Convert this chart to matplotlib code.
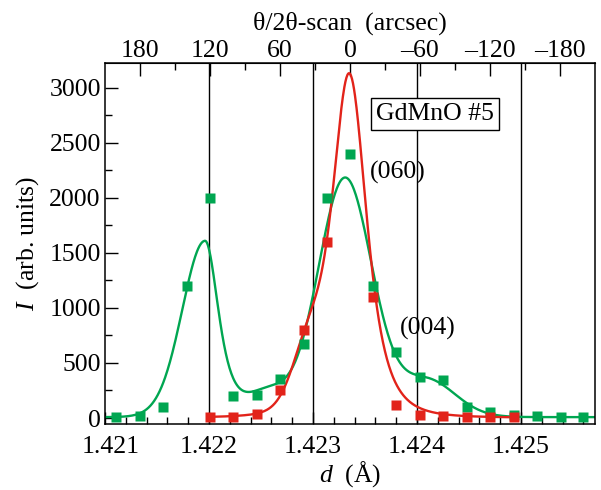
import numpy as np
import matplotlib.pyplot as plt
import matplotlib.transforms as mtransforms
from matplotlib.ticker import MultipleLocator, FixedLocator, FuncFormatter

plt.rcParams['font.family'] = ['Liberation Serif', 'DejaVu Serif']
plt.rcParams['mathtext.fontset'] = 'custom'
plt.rcParams['mathtext.rm'] = 'Liberation Serif'
plt.rcParams['mathtext.it'] = 'Liberation Serif:italic'
plt.rcParams['font.size'] = 18.5

# measured points: d-spacing (Angstrom) and intensity
green_d = [1.42111, 1.42134, 1.42156, 1.42179, 1.42201, 1.42223, 1.42246,
           1.42268, 1.42291, 1.42313, 1.42336, 1.42358, 1.42380, 1.42403,
           1.42425, 1.42448, 1.42470, 1.42493, 1.42515, 1.42538, 1.42560]
green_I = [10, 20, 100, 1200, 2000, 200, 210, 350, 670, 2000, 2400,
           1200, 600, 370, 345, 100, 55, 30, 15, 10, 8]

red_d = [1.42201, 1.42223, 1.42246, 1.42268, 1.42291, 1.42313, 1.42358,
         1.42380, 1.42403, 1.42425, 1.42448, 1.42470, 1.42493]
red_I = [5, 12, 40, 250, 800, 1600, 1100, 115, 30, 15, 8, 8, 5]

# fitted peak components: centre, height, left/right half widths, left/right shape
green_peaks = [
    (1.421962, 1600, 0.000260, 0.000154, 30, 2),
    (1.423308, 2170, 0.000308, 0.000308, 30, 30),
    (1.424106, 330, 0.000317, 0.000317, 30, 30),
    (1.422567, 200, 0.000226, 0.000226, 30, 30),
]
green_base = 8
red_peaks = [
    (1.423349, 3110, 0.000196, 0.000196, 2, 2),
    (1.422952, 470, 0.000181, 0.000181, 30, 30),
]
red_base = 3

# scan angle axis: 0 arcsec at D0, linear in d
D0 = 1.4233558
A_PER_ARCSEC = 1.12179e-5

arc_major = [180, 120, 60, 0, -60, -120, -180]
arc_minor = [150, 90, 30, -30, -90, -150]
d_major = [1.421, 1.422, 1.423, 1.424, 1.425]

green_c = '#00a651'
red_c = '#e2231a'


def pearson7(x, c, h, wl, wr, ml, mr):
    left = x < c
    w = np.where(left, wl, wr)
    m = np.where(left, ml, mr)
    k = 2 ** (1 / m) - 1
    return h * (1 + k * ((x - c) / w) ** 2) ** (-m)


def fit_curve(x, peaks, base):
    y = np.full_like(x, base, dtype=float)
    for p in peaks:
        y += pearson7(x, *p)
    return y


def d2arc(d):
    return (D0 - d) / A_PER_ARCSEC


def arc2d(a):
    return D0 - a * A_PER_ARCSEC


xmin, xmax = 1.421 - 1e-8, arc2d(-210)

fig = plt.figure(figsize=(6.01, 4.90), dpi=100)
ax = fig.add_axes([0.1747, 0.1357, 0.8153, 0.7357])

for d in d_major[1:]:
    ax.axvline(d, color='black', lw=1.0, zorder=1)

xg = np.linspace(xmin, xmax, 800)
ax.plot(xg, fit_curve(xg, green_peaks, green_base), color=green_c, lw=1.7, zorder=2)
xr = np.linspace(red_d[0], red_d[-1], 600)
ax.plot(xr, fit_curve(xr, red_peaks, red_base), color=red_c, lw=1.7, zorder=3)

ax.plot(green_d, green_I, 's', color=green_c, ms=6.5, mec='none', zorder=4)
ax.plot(red_d, red_I, 's', color=red_c, ms=6.5, mec='none', zorder=5)

ax.set_xlim(xmin, xmax)
ax.set_ylim(-50, 3225)

ax.xaxis.set_major_locator(FixedLocator(d_major))
ax.xaxis.set_minor_locator(MultipleLocator(0.0002))
ax.xaxis.set_major_formatter(FuncFormatter(lambda v, p: f'{v:.3f}'))
ax.yaxis.set_major_locator(MultipleLocator(500))
ax.yaxis.set_minor_locator(MultipleLocator(250))

ax.tick_params(which='both', direction='in', top=False, right=False, width=1.0)
ax.tick_params(which='major', length=9)
ax.tick_params(which='minor', length=5)
ax.tick_params(axis='x', pad=9)
ax.tick_params(axis='y', pad=3)
for s in ax.spines.values():
    s.set_linewidth(1.1)

top = ax.secondary_xaxis('top', functions=(d2arc, arc2d))
top.xaxis.set_major_locator(FixedLocator(arc_major))
top.xaxis.set_minor_locator(FixedLocator(arc_minor))
top.xaxis.set_major_formatter(FuncFormatter(lambda v, p: f'{v:.0f}'.replace('-', '\u2013')))
top.tick_params(which='both', direction='in', width=1.0, pad=1)
top.tick_params(which='major', length=9)
top.tick_params(which='minor', length=5)
top.set_xlabel('\u03b8/2\u03b8-scan  (arcsec)', labelpad=7)

ax.set_xlabel('$d$  (\u00c5)', labelpad=1)
ax.set_ylabel('$I$  (arb. units)', labelpad=6)

ax.text(1.424173, 2760, 'GdMnO #5', ha='center', va='center', zorder=6,
        bbox=dict(boxstyle='square,pad=0.2', fc='white', ec='black', lw=1.0))
ax.text(1.423548, 2232, '(060)', ha='left', va='center', zorder=6)
ax.text(1.423837, 817, '(004)', ha='left', va='center', zorder=6)

# nudge the first d label right, clear of the y axis
fig.canvas.draw()
first = ax.xaxis.get_major_ticks()[0].label1
first.set_transform(first.get_transform()
                    + mtransforms.ScaledTranslation(0.06, 0, fig.dpi_scale_trans))

fig.savefig('out.png', dpi=100)
